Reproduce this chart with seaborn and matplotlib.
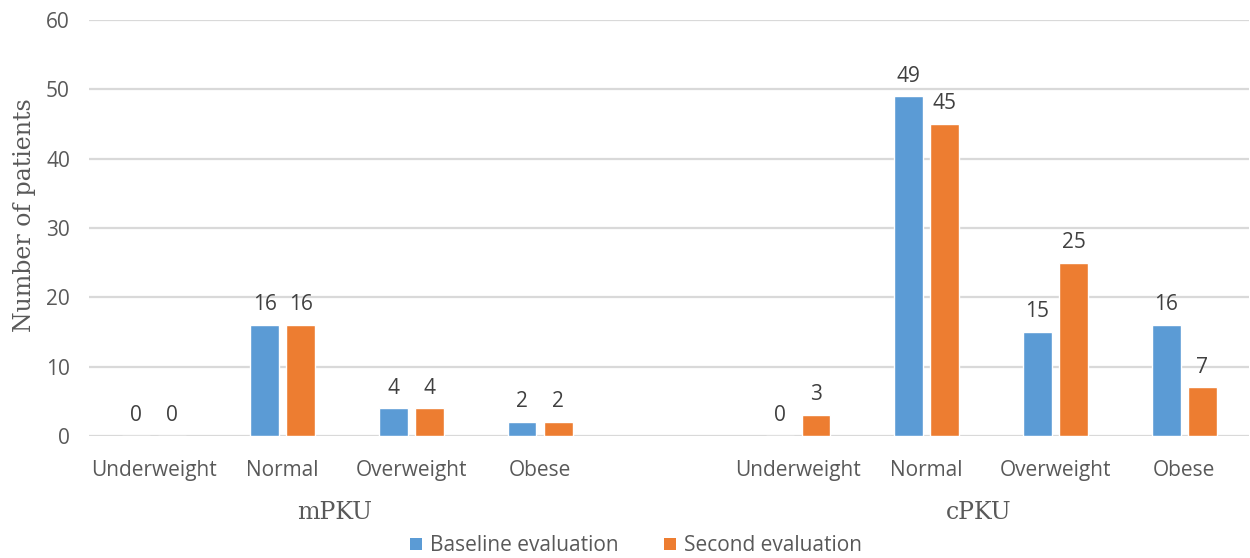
import matplotlib
matplotlib.use("Agg")
import matplotlib.pyplot as plt
import matplotlib.transforms as mtransforms
from matplotlib.patches import Patch
import pandas as pd
import seaborn as sns

# BMI categories per PKU group
groups = ["mPKU", "cPKU"]
categories = ["Underweight", "Normal", "Overweight", "Obese"]
series = ["Baseline evaluation", "Second evaluation"]
mpku_baseline = [0, 16, 4, 2]
mpku_second = [0, 16, 4, 2]
cpku_baseline = [0, 49, 15, 16]
cpku_second = [3, 45, 25, 7]
y_ticks = [0, 10, 20, 30, 40, 50, 60]

colors = ["#5B9BD5", "#ED7D31"]
text_gray = "#595959"
label_gray = "#404040"

# Long-form table; one empty slot separates the two groups
values = {
    ("mPKU", series[0]): mpku_baseline,
    ("mPKU", series[1]): mpku_second,
    ("cPKU", series[0]): cpku_baseline,
    ("cPKU", series[1]): cpku_second,
}
rows = []
for g in groups:
    for s in series:
        for c, v in zip(categories, values[(g, s)]):
            rows.append({"slot": f"{g}|{c}", "Evaluation": s, "Patients": v})
df = pd.DataFrame(rows)
order = [f"mPKU|{c}" for c in categories] + ["gap"] + [f"cPKU|{c}" for c in categories]

sns.set_theme(style="white")
plt.rcParams["font.family"] = ["Open Sans", "DejaVu Sans"]

fig = plt.figure(figsize=(12.5, 5.58), dpi=100)
ax = fig.add_axes([0.0715, 0.2186, 0.9275, 0.7455])

sns.barplot(data=df, x="slot", y="Patients", hue="Evaluation", order=order,
            hue_order=series, palette=colors, width=0.56, gap=0.21,
            saturation=1, legend=False, ax=ax, errorbar=None)

for cont in ax.containers:
    ax.bar_label(cont, fmt="%g", padding=7, fontsize=15, color=label_gray)

ax.set_ylim(0, 60)
ax.set_xlim(-0.5, len(order) - 0.5)
ax.set_yticks(y_ticks)
ax.set_yticklabels([str(t) for t in y_ticks], fontsize=15, color=text_gray)
ax.set_xticks(range(len(order)))
ax.set_xticklabels([s.split("|")[1] if "|" in s else "" for s in order],
                   fontsize=15, color=text_gray)
ax.tick_params(axis="both", length=0)
ax.tick_params(axis="x", pad=17)
ax.tick_params(axis="y", pad=14)
ax.yaxis.grid(True, color="#D9D9D9", linewidth=1.6)
ax.set_axisbelow(True)
for sp in ax.spines.values():
    sp.set_visible(False)

ax.set_xlabel("")
ax.set_ylabel("Number of patients", family="DejaVu Serif", fontsize=17,
              color=text_gray)
ax.yaxis.set_label_coords(-0.046, 0.53)

# Group labels under the category labels
trans = mtransforms.blended_transform_factory(ax.transData, ax.transAxes)
for g, center in zip(groups, [1.4, 6.4]):
    ax.text(center, -0.185, g, transform=trans, ha="center", va="center",
            family="DejaVu Serif", fontsize=17, color=text_gray)

handles = [Patch(facecolor=c, edgecolor="none") for c in colors]
fig.legend(handles, series, loc="center", bbox_to_anchor=(0.509, 0.022),
           ncol=2, frameon=False, fontsize=15, handlelength=0.55,
           handleheight=0.55, handletextpad=0.4, columnspacing=2.2,
           labelcolor=text_gray)

fig.savefig("out.png", dpi=100, facecolor="white")
